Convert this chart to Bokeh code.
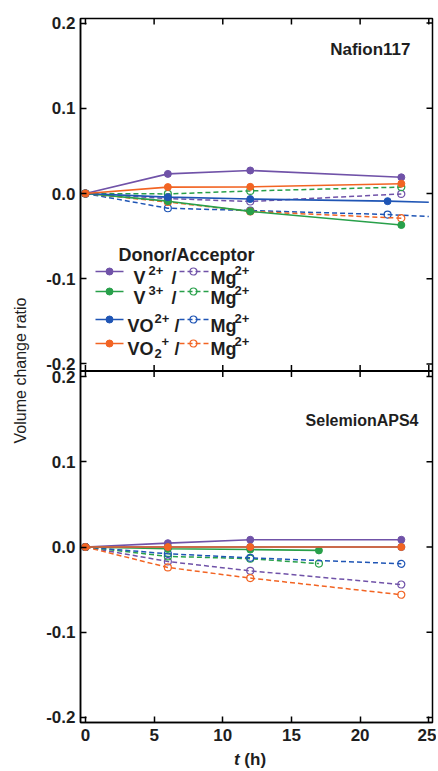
import math
from bokeh.plotting import figure
from bokeh.models import (Range1d, LinearAxis, FixedTicker, CustomJSTickFormatter,
                          Span, Div)
from bokeh.layouts import column
from bokeh.embed import file_html
from bokeh.resources import INLINE
from bokeh.core.properties import value

# ---------------- data ----------------
t = [0, 6, 12, 23]
x_ticks = [0, 5, 10, 15, 20, 25]
y_ticks = [-0.2, -0.1, 0.0, 0.1, 0.2]

# Nafion117 (top panel)
naf_V2_donor = [0, 0.023, 0.027, 0.019]
naf_V2_acc = [0, -0.006, -0.0094, -0.0005]
naf_V3_donor = [0, -0.009, -0.021, -0.037]
naf_V3_acc = [0, -0.0005, 0.003, 0.0075]
naf_VO_t = [0, 6, 12, 22]
naf_VO_donor = [0, -0.0043, -0.0065, -0.009]
naf_VO_acc = [0, -0.0173, -0.020, -0.0247]
naf_VO_tail_t = [22, 25]
naf_VO_donor_tail = [-0.009, -0.0102]
naf_VO_acc_tail = [-0.0247, -0.027]
naf_VO2_donor = [0, 0.0075, 0.0078, 0.0115]
naf_VO2_acc = [0, -0.010, -0.021, -0.029]

# SelemionAPS4 (bottom panel)
sel_V2_donor = [0, 0.0045, 0.0085, 0.0085]
sel_V2_acc = [0, -0.017, -0.028, -0.044]
sel_V3_t = [0, 6, 12, 17]
sel_V3_donor = [0, -0.002, -0.003, -0.004]
sel_V3_acc = [0, -0.011, -0.0137, -0.0195]
sel_VO_donor = [0, 0, 0, 0]
sel_VO_acc = [0, -0.008, -0.0127, -0.0197]
sel_VO2_donor = [0, 0, 0, 0]
sel_VO2_acc = [0, -0.024, -0.0365, -0.056]

PURPLE = "#7052A8"
GREEN = "#28A04A"
BLUE = "#1F55B5"
ORANGE = "#F26423"
TXT = "#1E1E1E"
FONT = "Liberation Sans"

# ---------------- layout geometry (page pixels) ----------------
XR = (-0.36, 25.27)
FW, FH = 352, 704
FX0, FT, FB = 80, 18, 722
K = 0.413 / 352                 # data units per pixel (both panels)
YB0 = -175.5 * K                # bottom-panel 0.0 sits 175.5 px above frame bottom
OFFSET = (546.5 - 193.0) * K    # shift between the two panels' zero lines
SPLIT = 370.5                   # page y of the border between the panels


def tx(px):
    return XR[0] + (px - FX0) * (XR[1] - XR[0]) / FW


def yv(py):
    return YB0 + (FB - py) * K


YR = (YB0, YB0 + FH * K)
TOP_R = (YR[0] - OFFSET, YR[1] - OFFSET)

p = figure(frame_width=FW, frame_height=FH,
           x_range=Range1d(*XR), y_range=Range1d(*YR),
           extra_y_ranges={"top": Range1d(*TOP_R)},
           x_axis_location=None, y_axis_location=None,
           toolbar_location=None, output_backend="svg",
           min_border_left=FX0, min_border_right=4,
           min_border_top=FT, min_border_bottom=26)
p.grid.visible = False
p.outline_line_color = "black"
p.outline_line_width = 1.5
p.background_fill_color = "white"
p.border_fill_color = "white"

# left axis: ticks of both panels
all_yticks = y_ticks + [v + OFFSET for v in y_ticks]
yfmt = CustomJSTickFormatter(args=dict(bound=yv(SPLIT), off=OFFSET), code="""
    const v = tick > bound ? tick - off : tick;
    return (Math.round(v * 10) / 10).toFixed(1);
""")
yax = LinearAxis(ticker=FixedTicker(ticks=all_yticks), formatter=yfmt,
                 major_tick_in=6, major_tick_out=0,
                 minor_tick_in=0, minor_tick_out=0, minor_tick_line_color=None,
                 axis_line_width=1.5, axis_line_color="black",
                 major_tick_line_width=1.5, major_tick_line_color="black",
                 major_label_text_font=FONT, major_label_text_font_style="bold",
                 major_label_text_font_size="17px", major_label_text_color=TXT,
                 major_label_standoff=5,
                 axis_label="Volume change ratio", axis_label_text_font=FONT,
                 axis_label_text_font_style="normal", axis_label_text_font_size="16px",
                 axis_label_text_color=TXT, axis_label_standoff=14)
p.add_layout(yax, "left")

xax = LinearAxis(ticker=FixedTicker(ticks=x_ticks),
                 major_tick_in=6, major_tick_out=0,
                 minor_tick_in=0, minor_tick_out=0, minor_tick_line_color=None,
                 axis_line_width=1.5, axis_line_color="black",
                 major_tick_line_width=1.5, major_tick_line_color="black",
                 major_label_text_font=FONT, major_label_text_font_style="bold",
                 major_label_text_font_size="17px", major_label_text_color=TXT,
                 major_label_standoff=6)
p.add_layout(xax, "below")

# mirrored inward ticks
p.ray(x=[XR[1]] * len(all_yticks), y=all_yticks, length=6, length_units="screen",
      angle=math.pi, line_color="black", line_width=1.5)
p.ray(x=x_ticks, y=[YR[1]] * len(x_ticks), length=6, length_units="screen",
      angle=-math.pi / 2, line_color="black", line_width=1.5)
p.ray(x=x_ticks, y=[yv(SPLIT)] * len(x_ticks), length=6, length_units="screen",
      angle=math.pi / 2, line_color="black", line_width=1.5)
p.ray(x=x_ticks, y=[yv(SPLIT)] * len(x_ticks), length=6, length_units="screen",
      angle=-math.pi / 2, line_color="black", line_width=1.5)
p.add_layout(Span(location=yv(SPLIT), dimension="width", line_color="black",
                  line_width=2))


def series(x, y, color, dashed, rng, markers=True):
    kw = {} if rng is None else {"y_range_name": rng}
    if dashed:
        p.line(x, y, line_color=color, line_width=1.5, line_dash="5 3", **kw)
        if markers:
            p.scatter(x, y, marker="circle", size=7, fill_color=None,
                      line_color=color, line_width=1.2, **kw)
    else:
        p.line(x, y, line_color=color, line_width=1.6, **kw)
        if markers:
            p.scatter(x, y, marker="circle", size=7, fill_color=color,
                      line_color=color, line_width=1, **kw)


# ---------------- top panel: Nafion117 ----------------
series(t, naf_V2_acc, PURPLE, True, "top")
series(t, naf_V3_acc, GREEN, True, "top")
series(naf_VO_t, naf_VO_acc, BLUE, True, "top")
series(naf_VO_tail_t, naf_VO_acc_tail, BLUE, True, "top", markers=False)
series(t, naf_VO2_acc, ORANGE, True, "top")
series(t, naf_V2_donor, PURPLE, False, "top")
series(t, naf_V3_donor, GREEN, False, "top")
series(naf_VO_t, naf_VO_donor, BLUE, False, "top")
series(naf_VO_tail_t, naf_VO_donor_tail, BLUE, False, "top", markers=False)
series(t, naf_VO2_donor, ORANGE, False, "top")

# ---------------- bottom panel: SelemionAPS4 ----------------
series(t, sel_V2_acc, PURPLE, True, None)
series(sel_V3_t, sel_V3_acc, GREEN, True, None)
series(t, sel_VO_acc, BLUE, True, None)
series(t, sel_VO2_acc, ORANGE, True, None)
series(t, sel_V2_donor, PURPLE, False, None)
series(sel_V3_t, sel_V3_donor, GREEN, False, None)
series(t, sel_VO_donor, BLUE, False, None)
series(t, sel_VO2_donor, ORANGE, False, None)


def txt(px, py, s, size=17, align="left", style="bold"):
    p.text(x=[tx(px)], y=[yv(py)], text=[s], text_align=align,
           text_baseline="alphabetic", text_font=value(FONT), text_font_style=style,
           text_font_size=f"{size}px", text_color=TXT)


txt(410, 49, "Nafion117", align="right")
txt(418, 420, "SelemionAPS4", size=16, align="right")

# legend
txt(118, 254, "Donor/Acceptor", size=18)
legend_rows = [
    (271, 277, PURPLE, [("V", 133, 0, 18), ("2+", 148, -7, 13), ("/", 171, 0, 18)]),
    (291, 297, GREEN, [("V", 133, 0, 18), ("3+", 148, -7, 13), ("/", 171, 0, 18)]),
    (319, 325, BLUE, [("VO", 127, 0, 18), ("2+", 154, -7, 13), ("/", 174, 0, 18)]),
    (343, 348, ORANGE, [("VO", 127, 0, 18), ("2", 154, 5, 13), ("+", 161, -7, 13), ("/", 174, 0, 18)]),
]
for ly, base, col, pieces in legend_rows:
    yy = yv(ly)
    p.line([tx(95), tx(123)], [yy, yy], line_color=col, line_width=1.6)
    p.scatter([tx(109)], [yy], marker="circle", size=7, fill_color=col, line_color=col)
    p.line([tx(179), tx(208)], [yy, yy], line_color=col, line_width=1.5, line_dash="5 3")
    p.scatter([tx(193)], [yy], marker="circle", size=7, fill_color=None,
              line_color=col, line_width=1.2)
    for s, px, dy, fs in pieces + [("Mg", 210, 0, 18), ("2+", 234, -7, 13)]:
        txt(px, base + dy, s, size=fs)

# x-axis title with italic t
title = Div(text=('<div style="width:340px;margin-left:80px;padding-top:3px;text-align:center;'
                  "font-family:'Liberation Sans';font-weight:bold;font-size:17px;"
                  'line-height:18px;color:#1E1E1E"><i>t</i> (h)</div>'),
            width=436, height=22, margin=(0, 0, 0, 0))

layout = column(p, title)
open("out.html", "w").write(file_html(layout, INLINE))
